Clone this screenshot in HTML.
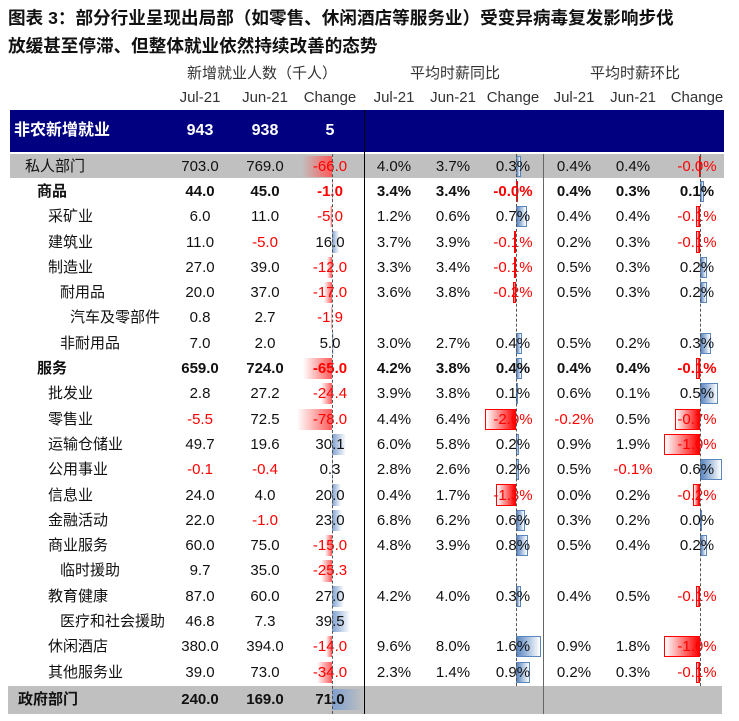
<!DOCTYPE html>
<html><head><meta charset="utf-8">
<style>
body{margin:0;background:#fff;width:739px;height:721px;overflow:hidden;position:relative;font-family:"Liberation Sans","Noto Sans CJK SC",sans-serif;}
.t{position:absolute;white-space:nowrap;font-size:15px;color:#111;line-height:20px;}
.c{transform:translateX(-50%);}
.b{position:absolute;}
</style></head><body>
<div class="t" style="left:8px;top:6px;font-size:17.6px;font-weight:bold;line-height:24px;">图表 3：部分行业呈现出局部（如零售、休闲酒店等服务业）受变异病毒复发影响步伐</div>
<div class="t" style="left:8px;top:34px;font-size:17.6px;font-weight:bold;line-height:24px;">放缓甚至停滞、但整体就业依然持续改善的态势</div>
<div id="root"></div>
<script>
const labels=["私人部门","商品","采矿业","建筑业","制造业","耐用品","汽车及零部件","非耐用品","服务","批发业","零售业","运输仓储业","公用事业","信息业","金融活动","商业服务","临时援助","教育健康","医疗和社会援助","休闲酒店","其他服务业","政府部门"];
const indents=[1,2,3,3,3,4,5,4,2,3,3,3,3,3,3,3,4,3,4,3,3,0];
const bolds=[0,1,0,0,0,0,0,0,1,0,0,0,0,0,0,0,0,0,0,0,0,1];
const jobsJul=[703.0,44.0,6.0,11.0,27.0,20.0,0.8,7.0,659.0,2.8,-5.5,49.7,-0.1,24.0,22.0,60.0,9.7,87.0,46.8,380.0,39.0,240.0];
const jobsJun=[769.0,45.0,11.0,-5.0,39.0,37.0,2.7,2.0,724.0,27.2,72.5,19.6,-0.4,4.0,-1.0,75.0,35.0,60.0,7.3,394.0,73.0,169.0];
const jobsChg=[-66.0,-1.0,-5.0,16.0,-12.0,-17.0,-1.9,5.0,-65.0,-24.4,-78.0,30.1,0.3,20.0,23.0,-15.0,-25.3,27.0,39.5,-14.0,-34.0,71.0];
const yoyJul=[4.0,3.4,1.2,3.7,3.3,3.6,null,3.0,4.2,3.9,4.4,6.0,2.8,0.4,6.8,4.8,null,4.2,null,9.6,2.3,null];
const yoyJun=[3.7,3.4,0.6,3.9,3.4,3.8,null,2.7,3.8,3.8,6.4,5.8,2.6,1.7,6.2,3.9,null,4.0,null,8.0,1.4,null];
const yoyChg=[0.3,-0.02,0.7,-0.1,-0.1,-0.2,null,0.4,0.4,0.1,-2.0,0.2,0.2,-1.3,0.6,0.8,null,0.3,null,1.6,0.9,null];
const momJul=[0.4,0.4,0.4,0.2,0.5,0.5,null,0.5,0.4,0.6,-0.2,0.9,0.5,0.0,0.3,0.5,null,0.4,null,0.9,0.2,null];
const momJun=[0.4,0.3,0.4,0.3,0.3,0.3,null,0.2,0.4,0.1,0.5,1.9,-0.1,0.2,0.2,0.4,null,0.5,null,1.8,0.3,null];
const momChg=[-0.02,0.1,-0.1,-0.1,0.2,0.2,null,0.3,-0.1,0.5,-0.7,-1.0,0.6,-0.2,0.0,0.2,null,-0.1,null,-1.0,-0.1,null];

const root=document.getElementById('root');
function el(tag,css,txt){const e=document.createElement(tag);e.style.cssText=css;if(txt!=null)e.textContent=txt;root.appendChild(e);return e;}
const y0=154,rh=25.3;
function rowY(i){return i===21?686:y0+i*rh;}
let e=el('div','position:absolute;left:10px;top:110px;width:714px;height:42px;background:#000080;');


e=el('div','position:absolute;left:10px;top:154px;width:714px;height:24px;background:#c0c0c0;');


e=el('div','position:absolute;left:8px;top:686px;width:714px;height:28px;background:#c0c0c0;');


e=el('div','position:absolute;left:364px;top:110px;width:1px;height:604px;background:#000;');


e=el('div','position:absolute;left:543px;top:154px;width:1px;height:560px;background:#666;');


function txt(x,y,s,css,name,center){const d=el('div','left:'+x+'px;top:'+y+'px;'+(css||''),s);d.className='t'+(center===false?'':' c');return d;}
txt(262,64,'新增就业人数（千人）','color:#333;','header-jobs');
txt(455,64,'平均时薪同比','color:#333;','header-yoy');
txt(635,64,'平均时薪环比','color:#333;','header-mom');
const cx=[200,265,330,394,453,513,574,633,697];
const hd=['Jul-21','Jun-21','Change','Jul-21','Jun-21','Change','Jul-21','Jun-21','Change'];
hd.forEach((h,k)=>txt(cx[k],88,h,'color:#333;','column-header'));
txt(14,121,'非农新增就业','color:#fff;font-weight:bold;font-size:16px;','total-label',false);
txt(200,121,'943','color:#fff;font-weight:bold;font-size:16px;','total-jul');
txt(265,121,'938','color:#fff;font-weight:bold;font-size:16px;','total-jun');
txt(330,121,'5','color:#fff;font-weight:bold;font-size:16px;','total-change');
const axes=[{x:332,s:0.45,border:false},{x:516,s:15.5,border:true},{x:700,s:36,border:true}];
function bar(ax,v,y,name){
  if(v==null)return;
  const w=Math.abs(v)*ax.s, neg=v<0;
  const left=neg?ax.x-w:ax.x;
  let bg;
  if(ax.border) bg=neg?'linear-gradient(to right,#ffffff,#ff0000)':'linear-gradient(to right,#5a86c0,#ffffff)';
  else bg=neg?'linear-gradient(to right,rgba(255,255,255,0),#ff5a5a)':'linear-gradient(to right,#7fa0cf,rgba(255,255,255,0))';
  const bd=ax.border?(neg?'border:1px solid #ff0000;':'border:1px solid #5a86c0;'):'';
  const d=el('div','position:absolute;left:'+left+'px;top:'+(y+1.5)+'px;width:'+Math.max(w,1)+'px;height:'+(rh-4)+'px;background:'+bg+';box-sizing:border-box;'+bd);
  
  
}
function fmt(v,p){return v.toFixed(1)+(p?'%':'');}
for(let i=0;i<labels.length;i++){
  const y=rowY(i), h=(i===21?28:rh), ty=y+(h-20)/2;
  bar(axes[0],jobsChg[i],y+(i===21?1:0),'jobs-change-bar');
  bar(axes[1],yoyChg[i],y,'yoy-change-bar');
  bar(axes[2],momChg[i],y,'mom-change-bar');
  const bold=bolds[i]?'font-weight:bold;':'';
  const lx=[18,25,37,48,60,70][indents[i]];
  txt(lx,ty,labels[i],bold,'row-label',false);
  const vals=[[jobsJul[i],0],[jobsJun[i],0],[jobsChg[i],0],[yoyJul[i],1],[yoyJun[i],1],[yoyChg[i],1],[momJul[i],1],[momJun[i],1],[momChg[i],1]];
  vals.forEach((p,k)=>{ if(p[0]==null)return;
    const s=fmt(p[0],p[1]); const red=s.charAt(0)==='-';
    txt(cx[k],ty,s,bold+(red?'color:#ff0000;':''),'cell-value');
  });
}
axes.forEach((a,k)=>{const d=el('div','position:absolute;left:'+a.x+'px;top:154px;width:0;height:'+(k===0?560:532)+'px;border-left:1px dashed #555;');

});
</script>
</body></html>
